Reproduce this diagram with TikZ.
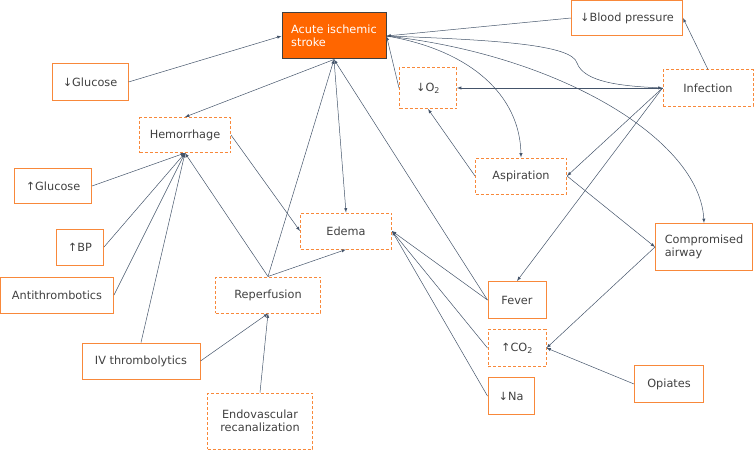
\documentclass[tikz,border=0pt]{standalone}
\usepackage{fontspec}
\setmainfont{DejaVu Sans}
\usetikzlibrary{arrows}
\definecolor{boxorange}{HTML}{F8883A}
\definecolor{strokeorange}{HTML}{FF6600}
\definecolor{linkgray}{HTML}{44546A}
\definecolor{textgray}{HTML}{404040}
\tikzset{
  box/.style={draw=boxorange, line width=1pt, text=textgray, inner sep=2pt,
    font=\fontsize{11.3}{13.5}\selectfont},
  dbox/.style={box, dashed, dash pattern=on 3pt off 2pt},
  mainbox/.style={box, draw=textgray, fill=strokeorange, text=white},
  link/.style={draw=linkgray, line width=0.5pt, -latex}
}
\begin{document}
\begin{tikzpicture}[x=1pt,y=-1pt]
    \useasboundingbox (0,0) rectangle (755,452);

    \node[mainbox, minimum width=104, minimum height=46, align=left] (stroke) at (334,36) {Acute ischemic\\stroke};
    \node[box, minimum width=111, minimum height=35] (bp) at (627,18) {↓Blood pressure};
    \node[box, minimum width=76, minimum height=36] (glu) at (90,82) {↓Glucose};
    \node[dbox, minimum width=91, minimum height=35] (hem) at (185,135) {Hemorrhage};
    \node[box, minimum width=77, minimum height=35] (hglu) at (53,186) {↑Glucose};
    \node[box, minimum width=47, minimum height=36] (hbp) at (80,247) {↑BP};
    \node[box, minimum width=113, minimum height=36] (anti) at (57,295) {Antithrombotics};
    \node[box, minimum width=118, minimum height=36] (iv) at (141,361) {IV thrombolytics};
    \node[dbox, minimum width=105, minimum height=36] (rep) at (268,295) {Reperfusion};
    \node[dbox, minimum width=105, minimum height=56, align=center] (endo) at (260,421) {Endovascular\\recanalization};
    \node[dbox, minimum width=91, minimum height=36] (edema) at (346,231) {Edema};
    \node[dbox, minimum width=57, minimum height=41] (o2) at (428,88) {↓O\textsubscript{2}};
    \node[dbox, minimum width=90, minimum height=36] (inf) at (708,88) {Infection};
    \node[dbox, minimum width=91, minimum height=36] (asp) at (521,176) {Aspiration};
    \node[box, minimum width=97, minimum height=47, align=left] (air) at (704,247) {Compromised\\airway};
    \node[box, minimum width=58, minimum height=37] (fever) at (517,300) {Fever};
    \node[dbox, minimum width=58, minimum height=37] (co2) at (517,348) {↑CO\textsubscript{2}};
    \node[box, minimum width=46, minimum height=37] (na) at (511,396) {↓Na};
    \node[box, minimum width=69, minimum height=37] (opi) at (669,384) {Opiates};

    % into the stroke
    \draw[link] (glu.east) -- (stroke.west);
    \draw[link] (bp.west) -- (stroke.east);
    \draw[link] (o2.west) -- (stroke.east);
    \draw[link] (rep.north) -- (stroke.south);
    \draw[link] (fever.west) -- (stroke.south);

    % out of the stroke
    \draw[link] (stroke.south) -- (hem.north);
    \draw[link] (stroke.south) -- (edema.north);
    \draw[link] (stroke.east) .. controls (500,40) and (572,45) .. (577,63)
                              .. controls (584,82) and (620,86) .. (inf.west);
    \draw[link] (stroke.east) .. controls (470,50) and (520,95) .. (asp.north);
    \draw[link] (stroke.east) .. controls (560,55) and (700,140) .. (air.north);

    % hemorrhage
    \draw[link] (hem.east) -- (edema.west);
    \draw[link] (hglu.east) -- (hem.south);
    \draw[link] (hbp.east) -- (hem.south);
    \draw[link] (anti.east) -- (hem.south);
    \draw[link] (iv.north) -- (hem.south);
    \draw[link] (rep.north) -- (hem.south);

    % reperfusion
    \draw[link] (rep.north) -- (edema.south);
    \draw[link] (iv.east) -- (rep.south);
    \draw[link] (endo.north) -- (rep.south);

    % infection
    \draw[link] (inf.north) -- (bp.east);
    \draw[link] (inf.west) -- (o2.east);
    \draw[link] (inf.west) -- (asp.east);
    \draw[link] (inf.west) -- (fever.north);

    % airway
    \draw[link] (asp.west) -- (o2.south);
    \draw[link] (asp.east) -- (air.west);
    \draw[link] (air.west) -- (co2.east);
    \draw[link] (opi.west) -- (co2.east);

    % edema
    \draw[link] (fever.west) -- (edema.east);
    \draw[link] (co2.west) -- (edema.east);
    \draw[link] (na.west) -- (edema.east);
  \end{tikzpicture}
\end{document}
